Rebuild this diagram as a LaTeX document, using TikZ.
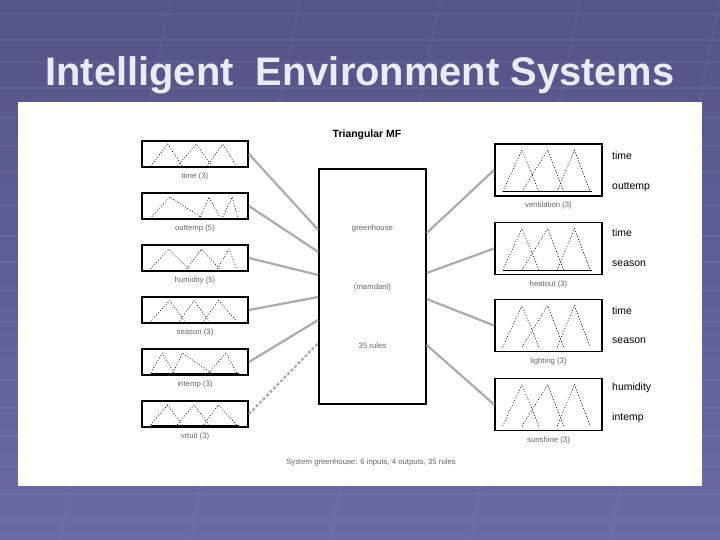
\documentclass[tikz,border=0pt]{standalone}
\usepackage{fontspec}
\setmainfont{Liberation Sans}
\usetikzlibrary{calc}
\definecolor{bgtop}{RGB}{84,84,136}
\definecolor{bgbot}{RGB}{106,106,164}
\definecolor{connc}{RGB}{172,172,172}
\tikzset{
  mfbox/.style={draw=black, line width=1.8bp, minimum width=106bp, minimum height=26bp, inner sep=0pt, fill=white},
  outbox/.style={mfbox, minimum width=107bp, minimum height=52bp},
  fisbox/.style={draw=black, line width=1.4bp, minimum width=107bp, minimum height=235bp, inner sep=0pt, fill=white},
  mfline/.style={black, line width=0.6bp, dash pattern=on 1bp off 1.8bp},
  baseln/.style={black, line width=0.8bp},
  conn/.style={connc, line width=2.2bp},
  dconn/.style={connc, line width=2.2bp, dash pattern=on 3bp off 2bp},
  small/.style={font=\fontsize{7.8}{8}\selectfont, text=black!60, inner sep=0pt},
  varlab/.style={font=\fontsize{10.5}{11}\selectfont, text=black, anchor=west, inner sep=0pt},
  grid/.style={white, opacity=0.05, line width=1.6bp}
}
\newcommand{\mftris}[4]{% node, list a/p/b, bottom frac, top frac
  \begin{scope}[shift={(#1.south west)}, x=\pgfkeysvalueof{/tmp/w}, y=\pgfkeysvalueof{/tmp/h}]
    \foreach \a/\p/\b in {#2} {
      \draw[mfline] (\a,#3) -- (\p,#4) -- (\b,#3);
    }
  \end{scope}}
\pgfkeys{/tmp/w/.initial=106bp, /tmp/h/.initial=26bp}
\begin{document}
\begin{tikzpicture}[x=1bp, y=-1bp]
\useasboundingbox (0,0) rectangle (720,540);
% background
\shade[top color=bgtop, bottom color=bgbot] (0,0) rectangle (720,540);
\foreach \yy in {14,40,62,88,118,146,172,205,236,262,290,322,350,380,408,436,466,494,520}
  \draw[grid] (0,\yy) -- (720,\yy);
\foreach \xx in {60,190,330,470,610}
  \draw[white, opacity=0.04, line width=2bp] (\xx,540) -- (\xx+110,0);
% title
\node[font=\fontsize{40}{44}\selectfont\bfseries, text=white!92!blue, anchor=base] (title) at (360,86) {Intelligent\ \ Environment Systems};
% panel
\fill[white] (18,102) rectangle (702,486);
% central box
\node[fisbox] (fis) at (372.5,286.5) {};
\node[font=\fontsize{10.5}{11}\selectfont\bfseries, inner sep=0pt] (mftitle) at (367,135) {Triangular MF};
\node[small] (gh) at (372.5,228) {greenhouse};
\node[small] (mam) at (372.5,287) {(mamdani)};
\node[small] (rules) at (372.5,346) {35 rules};
\node[small] (sys) at (371,462) {System greenhouse: 6 inputs, 4 outputs, 35 rules};
% input boxes
\node[mfbox] (in1) at (195,154) {};
\node[mfbox] (in2) at (195,206) {};
\node[mfbox] (in3) at (195,258) {};
\node[mfbox] (in4) at (195,310) {};
\node[mfbox] (in5) at (195,362) {};
\node[mfbox] (in6) at (195,414) {};
\node[small] (l1) at ($(in1.south)+(0,9)$) {time (3)};
\node[small] (l2) at ($(in2.south)+(0,9)$) {outtemp (5)};
\node[small] (l3) at ($(in3.south)+(0,9)$) {humidity (5)};
\node[small] (l4) at ($(in4.south)+(0,9)$) {season (3)};
\node[small] (l5) at ($(in5.south)+(0,9)$) {intemp (3)};
\node[small] (l6) at ($(in6.south)+(0,9)$) {vrtuit (3)};
\mftris{in1}{.09/.25/.39, .34/.52/.67, .62/.77/.9}{.06}{.92}
\mftris{in2}{.1/.27/.56, .56/.64/.74, .77/.86/.91}{.12}{.88}
\mftris{in3}{.09/.26/.45, .43/.57/.74, .72/.83/.9}{.12}{.88}
\mftris{in4}{.09/.27/.41, .36/.5/.64, .59/.73/.9}{.1}{.9}
\mftris{in5}{.09/.2/.31, .3/.39/.66, .64/.8/.9}{.12}{.88}
\mftris{in6}{.09/.25/.39, .34/.5/.64, .59/.73/.9}{.12}{.88}
\draw[baseln] ($(in5.south west)!.09!(in5.south east)+(0,-3)$) -- ($(in5.south west)!.91!(in5.south east)+(0,-3)$);
\draw[baseln] ($(in6.south west)!.09!(in6.south east)+(0,-3)$) -- ($(in6.south west)!.91!(in6.south east)+(0,-3)$);
% output boxes
\node[outbox] (out1) at (548.5,170) {};
\node[outbox] (out2) at (548.5,248.5) {};
\node[outbox] (out3) at (548.5,325.5) {};
\node[outbox] (out4) at (548.5,404.5) {};
\node[small] (r1) at ($(out1.south)+(0,9)$) {ventilation (3)};
\node[small] (r2) at ($(out2.south)+(0,9)$) {heatout (3)};
\node[small] (r3) at ($(out3.south)+(0,9)$) {lighting (3)};
\node[small] (r4) at ($(out4.south)+(0,9)$) {sunshine (3)};
\pgfkeys{/tmp/w=107bp, /tmp/h=52bp}
\mftris{out1}{.08/.26/.42, .26/.5/.65, .59/.75/.9}{.1}{.9}
\mftris{out2}{.08/.26/.42, .26/.5/.65, .59/.75/.9}{.1}{.9}
\mftris{out3}{.08/.26/.42, .26/.5/.65, .59/.75/.9}{.1}{.9}
\mftris{out4}{.08/.26/.42, .26/.5/.65, .59/.75/.9}{.1}{.9}
\draw[baseln] ($(out1.south west)!.08!(out1.south east)+(0,-5)$) -- ($(out1.south west)!.9!(out1.south east)+(0,-5)$);
\draw[baseln] ($(out2.south west)!.08!(out2.south east)+(0,-5)$) -- ($(out2.south west)!.9!(out2.south east)+(0,-5)$);
\node[varlab] (t1) at (612,156) {time};
\node[varlab] (o1) at (612,187) {outtemp};
\node[varlab] (t2) at (612,233) {time};
\node[varlab] (s2) at (612,264) {season};
\node[varlab] (t3) at (612,311) {time};
\node[varlab] (s3) at (612,341) {season};
\node[varlab] (h4) at (612,388) {humidity};
\node[varlab] (i4) at (612,418) {intemp};
% connector end points on the central box
\coordinate (a1) at (fis.west |- 0,230);
\coordinate (a2) at (fis.west |- 0,252);
\coordinate (a3) at (fis.west |- 0,275);
\coordinate (a4) at (fis.west |- 0,297);
\coordinate (a5) at (fis.west |- 0,320);
\coordinate (a6) at (fis.west |- 0,343);
\coordinate (b1) at (fis.east |- 0,233);
\coordinate (b2) at (fis.east |- 0,273);
\coordinate (b3) at (fis.east |- 0,299);
\coordinate (b4) at (fis.east |- 0,345);
\draw[conn] (in1.east) -- (a1);
\draw[conn] (in2.east) -- (a2);
\draw[conn] (in3.east) -- (a3);
\draw[conn] (in4.east) -- (a4);
\draw[conn] (in5.east) -- (a5);
\draw[dconn] (in6.east) -- (a6);
\draw[conn] (b1) -- (out1.west);
\draw[conn] (b2) -- (out2.west);
\draw[conn] (b3) -- (out3.west);
\draw[conn] (b4) -- (out4.west);
\end{tikzpicture}
\end{document}
